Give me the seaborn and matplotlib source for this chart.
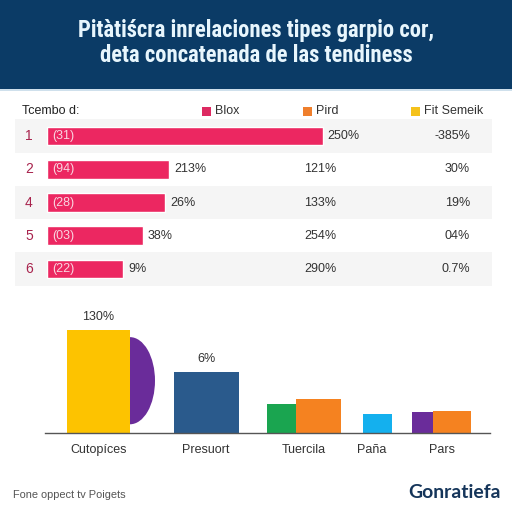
import matplotlib
matplotlib.use("Agg")
import matplotlib.pyplot as plt
import seaborn as sns
import pandas as pd
from matplotlib.patches import Ellipse, Rectangle

sns.set_theme(style="white")
plt.rcParams['font.family'] = ['Liberation Sans', 'DejaVu Sans']

# ---------------- data ----------------
title_lines = ["Pitàtiścra inrelaciones tipes garpio cor,",
               "deta concatenada de las tendiness"]
table_header = "Tcembo d:"
legend_labels = ["Blox", "Pird", "Fit Semeik"]
row_labels = ["1", "2", "4", "5", "6"]
bar_values = [250, 111, 107, 87, 69]
inner_labels = ["(31)", "(94)", "(28)", "(03)", "(22)"]
col1_labels = ["250%", "213%", "26%", "38%", "9%"]
col2_labels = ["", "121%", "133%", "254%", "290%"]
col3_labels = ["-385%", "30%", "19%", "04%", "0.7%"]

categories = ["Cutopíces", "Presuort", "Tuercila", "Paña", "Pars"]
seg_category = ["Cutopíces", "Presuort", "Tuercila", "Tuercila", "Paña", "Pars", "Pars"]
seg_values = [130, 77, 37, 43, 24, 27, 28]
top_label_category = ["Cutopíces", "Presuort"]
top_label_text = ["130%", "6%"]
semicircle_center = [66]
semicircle_half_height = [55]
footer_left = "Fone oppect tv Poigets"
footer_right = "Gonratiefa"

# ---------------- style / layout ----------------
NAVY = "#0b3b66"
PINK = "#ec2761"
seg_colors = ["#fdc300", "#2a5a8c", "#1aa550", "#f58220", "#14b0ee", "#6a2c9a", "#f58220"]
legend_colors = ["#dd2a62", "#ef7f2c", "#f5c21b"]
SEMI_COLOR = "#6a2c9a"
seg_px = [(67, 130), (174, 239), (267, 296), (296, 341), (363, 392), (412, 433), (433, 471)]
cat_px = [99, 206, 304, 372, 442]


def fx(x):
    return x / 512.0


def fy(y):
    return 1 - y / 512.0


fig = plt.figure(figsize=(5.12, 5.12), dpi=100)
fig.patch.set_facecolor("white")
renderer = fig.canvas.get_renderer()

# header band
fig.patches.append(Rectangle((0, fy(89)), 1, 89 / 512, transform=fig.transFigure,
                             facecolor=NAVY, edgecolor="none", zorder=0))
fig.patches.append(Rectangle((0, fy(90.5)), 1, 1.5 / 512, transform=fig.transFigure,
                             facecolor="#cfe0ec", edgecolor="none", zorder=0))


def fit_text(x, y, s, target_w, size, **kw):
    t = fig.text(x, y, s, fontsize=size, **kw)
    w = t.get_window_extent(renderer).width
    t.set_fontsize(size * target_w / w)
    return t


title_font = ['Liberation Sans Narrow', 'Roboto Condensed', 'Roboto', 'DejaVu Sans']
fit_text(0.5, fy(31), title_lines[0], 358, 15, ha="center", va="center",
         color="#e8f6fd", fontweight="bold", family=title_font)
fit_text(0.5, fy(56), title_lines[1], 313, 15, ha="center", va="center",
         color="#e8f6fd", fontweight="bold", family=title_font)

# ---------------- table of horizontal bars ----------------
k = 1.104  # px per unit
ax_t = fig.add_axes([fx(15), fy(285.6), fx(492 - 15), 166.2 / 512])
df_t = pd.DataFrame({"row": row_labels, "value": bar_values})
sns.barplot(data=df_t, y="row", x="value", orient="h", color=PINK, saturation=1,
            width=0.57, ax=ax_t, zorder=2)
ax_t.set_xlim(-(46.7 - 15) / k, (492 - 46.7) / k)
ax_t.set_ylim(4.5, -0.5)
for i in range(0, len(row_labels), 2):
    ax_t.axhspan(i - 0.5, i + 0.5, color="#f5f5f5", zorder=0, lw=0)
ax_t.set_axis_off()


def tx(px):
    return (px - 46.7) / k


for i, r in enumerate(row_labels):
    ax_t.text(tx(29), i, r, ha="center", va="center", fontsize=10, color="#a8234d")
    ax_t.text(tx(52), i, inner_labels[i], ha="left", va="center", fontsize=9,
              color="#f9d5e0", zorder=3)
    ax_t.text(bar_values[i] + 5 / k, i, col1_labels[i], ha="left", va="center",
              fontsize=9, color="#333333")
    ax_t.text(tx(304), i, col2_labels[i], ha="left", va="center", fontsize=9,
              color="#333333")
    ax_t.text(tx(470), i, col3_labels[i], ha="right", va="center", fontsize=9,
              color="#333333")

# header row
fig.text(fx(22), fy(111), table_header, ha="left", va="center", fontsize=9,
         color="#222222")
for (sx, tx_px), lab, col in zip([(202, 215), (303, 316), (411, 424)], legend_labels,
                                 legend_colors):
    fig.patches.append(Rectangle((fx(sx), fy(115.5)), 9 / 512, 9 / 512,
                                 transform=fig.transFigure, facecolor=col,
                                 edgecolor="none"))
    fig.text(fx(tx_px), fy(111), lab, ha="left", va="center", fontsize=9,
             color="#333333")

# ---------------- bottom bar chart ----------------
pxu = 0.7923  # px per unit
ax_b = fig.add_axes([fx(45), fy(433), fx(445), 133 / 512])
seg_ids = [f"{c}_{i}" for i, c in enumerate(seg_category)]
df_b = pd.DataFrame({"seg": seg_ids, "value": seg_values})
sns.barplot(data=df_b, x="seg", y="value", hue="seg", palette=seg_colors,
            legend=False, saturation=1, ax=ax_b, zorder=2)
bars = [p for p in ax_b.patches if isinstance(p, Rectangle)]
for p, (l, r) in zip(bars, seg_px):
    p.set_x(l - 45)
    p.set_width(r - l)
    p.set_edgecolor("none")

ax_b.add_patch(Ellipse((seg_px[0][1] - 45, semicircle_center[0]), width=50,
                       height=2 * semicircle_half_height[0], facecolor=SEMI_COLOR,
                       edgecolor="none", zorder=1))
ax_b.set_xlim(0, 445)
ax_b.set_ylim(0, 133 / pxu)
ax_b.set_xticks([c - 45 for c in cat_px])
ax_b.set_xticklabels(categories, fontsize=9, color="#333333")
ax_b.tick_params(axis="x", length=0, pad=8)
ax_b.set_yticks([])
ax_b.set_xlabel("")
ax_b.set_ylabel("")
for s in ["top", "right", "left"]:
    ax_b.spines[s].set_visible(False)
ax_b.spines["bottom"].set_color("#555555")
ax_b.spines["bottom"].set_linewidth(1)
ax_b.patch.set_alpha(0)

for cat, lab in zip(top_label_category, top_label_text):
    idx = seg_category.index(cat)
    l, r = seg_px[idx]
    ax_b.annotate(lab, ((l + r) / 2 - 45, seg_values[idx]), xytext=(0, 5),
                  textcoords="offset points", ha="center", va="bottom",
                  fontsize=9, color="#333333")

# footer
fig.text(fx(13), fy(495), footer_left, ha="left", va="center", fontsize=7.9,
         color="#555555")
fit_text(fx(408), fy(493), footer_right, 92, 12, ha="left", va="center",
         color="#15355a", fontweight="bold", family=["Lato", "Inter", "DejaVu Sans"])

fig.savefig("out.png", dpi=100)
